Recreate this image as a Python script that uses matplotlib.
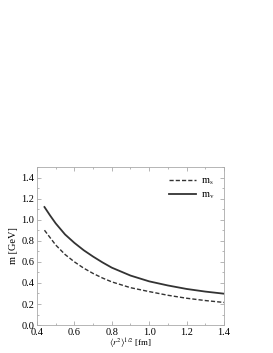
import matplotlib
matplotlib.use("Agg")
import matplotlib.pyplot as plt
from matplotlib.ticker import MultipleLocator

plt.rcParams['font.family'] = ['Liberation Serif', 'DejaVu Serif']
plt.rcParams['mathtext.fontset'] = 'stix'

r = [0.44, 0.47, 0.5, 0.55, 0.6, 0.65, 0.7, 0.75, 0.8, 0.9, 1.0, 1.1, 1.2, 1.3, 1.4]
m_s = [0.90, 0.83, 0.76, 0.67, 0.60, 0.54, 0.49, 0.447, 0.41, 0.355, 0.318, 0.283, 0.255, 0.233, 0.215]
m_v = [1.12, 1.04, 0.965, 0.86, 0.78, 0.71, 0.65, 0.595, 0.545, 0.47, 0.415, 0.376, 0.343, 0.318, 0.298]

fig = plt.figure(figsize=(2.73, 3.53), dpi=100)
ax = fig.add_axes([0.1355, 0.079, 0.685, 0.448])
ax.plot(r, m_s, ls=(0, (3, 1.5)), color='#333333', lw=1.0, label=r'm$_\mathrm{s}$')
ax.plot(r, m_v, ls='-', color='#333333', lw=1.3, label=r'm$_\mathrm{v}$')
ax.set_xlim(0.4, 1.4)
ax.set_ylim(0.0, 1.5)
ax.set_xticks([0.4, 0.6, 0.8, 1.0, 1.2, 1.4])
ax.set_yticks([0.0, 0.2, 0.4, 0.6, 0.8, 1.0, 1.2, 1.4])
ax.xaxis.set_minor_locator(MultipleLocator(0.1))
ax.yaxis.set_minor_locator(MultipleLocator(0.1))
ax.tick_params(which='both', direction='in', top=True, right=True, labelsize=7.5, color='#999999', width=0.5, pad=2)
ax.tick_params(which='major', length=3)
ax.tick_params(which='minor', length=1.5)
for s in ax.spines.values():
    s.set_color('#aaaaaa')
    s.set_linewidth(0.6)
ax.set_xlabel(r'$\left\langle r^{2}\right\rangle^{1/2}$ [fm]', fontsize=6.5, labelpad=0)
ax.set_ylabel('m [GeV]', fontsize=7.5, labelpad=2)
ax.legend(loc='upper right', frameon=False, fontsize=7.5, handlelength=2.6, borderaxespad=0.5, handletextpad=0.5, labelspacing=0.3)
fig.savefig('out.png', dpi=100)
